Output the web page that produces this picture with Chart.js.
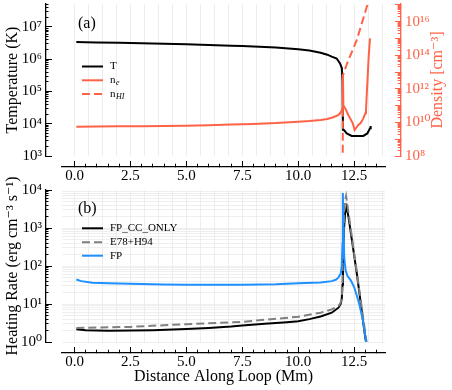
<!DOCTYPE html>
<html>
<head>
<meta charset="utf-8">
<script src="https://cdn.jsdelivr.net/npm/chart.js@4.4.1/dist/chart.umd.min.js"></script>
<style>
  html, body { margin: 0; padding: 0; background: #fff; }
  #wrap { position: relative; width: 452px; height: 390px; }
  canvas { position: absolute; left: 0; }
  #topChart { top: 0; }
  #bottomChart { top: 160px; }
</style>
</head>
<body>
<div id="wrap">
  <canvas id="topChart" width="452" height="190"></canvas>
  <canvas id="bottomChart" width="452" height="230"></canvas>
</div>
<script>
// ---- panel (a): temperature and densities ----
const tempX = [0.08, 0.5, 1, 2, 3, 4, 5, 6, 7, 7.5, 8, 9, 10, 10.5, 11, 11.3, 11.5, 11.72, 11.87, 11.95, 11.98, 11.995, 12.0, 12.05, 12.17, 12.39, 12.7, 12.91, 13.09, 13.21, 13.24];
const tempK = [3.39e6, 3.35e6, 3.31e6, 3.24e6, 3.13e6, 3.02e6, 2.88e6, 2.75e6, 2.63e6, 2.57e6, 2.48e6, 2.29e6, 2.04e6, 1.86e6, 1.58e6, 1.38e6, 1.2e6, 1.05e6, 7.4e5, 5.3e5, 2.2e5, 2.0e4, 6.5e3, 6.3e3, 5.0e3, 4.2e3, 4.2e3, 4.2e3, 5.0e3, 7.2e3, 8.5e3];

const neX = [0.08, 1, 2, 3, 4, 5, 6, 7, 7.5, 8, 9, 10, 10.5, 11, 11.3, 11.5, 11.7, 11.8, 11.87, 11.95, 11.98, 12.0, 12.02, 12.1, 12.24, 12.44, 12.52, 12.69, 12.8, 12.91, 13.0, 13.03, 13.09, 13.15, 13.21];
const neVal = [5.6e9, 5.75e9, 5.9e9, 6.0e9, 6.2e9, 6.3e9, 6.8e9, 7.4e9, 7.8e9, 8.1e9, 9.1e9, 1.1e10, 1.2e10, 1.38e10, 1.58e10, 1.9e10, 2.4e10, 2.75e10, 3.5e10, 5.0e10, 7.1e10, 7.1e12, 1.0e11, 6.9e10, 2.75e10, 8.9e9, 3.5e9, 7.1e9, 9.5e9, 1.74e10, 3.5e10, 5.5e10, 2.1e12, 8.3e13, 1.0e15];

const nhiX = [11.99, 12.0, 12.17, 12.62, 13.09, 13.2];
const nhiVal = [3e7, 6.3e12, 2.9e13, 8.1e14, 9.8e16, 3.0e17];

// ---- panel (b): heating rates ----
const ccX = [0.08, 0.5, 1, 1.5, 2.5, 3.5, 5, 6, 7, 7.5, 8.5, 9.5, 10, 10.5, 11, 11.5, 11.8, 11.9, 11.95, 11.98, 12.0, 12.05, 12.1, 12.17, 12.25, 12.62, 12.99, 13.06];
const ccRate = [2.15, 2.05, 2.0, 1.97, 2.0, 2.05, 2.2, 2.35, 2.55, 2.7, 3.0, 3.3, 3.5, 4.0, 4.7, 5.9, 8.0, 10, 14, 32, 200, 1000, 2500, 3600, 1900, 64, 1.4, 0.8];

const e78X = [0.08, 1, 2.5, 5, 7.5, 10, 11, 11.5, 11.8, 11.9, 11.95, 11.98, 12.0, 12.05, 12.1, 12.14, 12.25, 12.6, 13.0, 13.08];
const e78Rate = [2.35, 2.4, 2.5, 2.95, 3.4, 4.6, 5.9, 7.2, 8.9, 11, 16, 40, 300, 2000, 5600, 7000, 2450, 83, 1.7, 0.8];

const fpX = [0.08, 0.3, 0.8, 1.5, 2.5, 4, 5, 6.5, 7.5, 9, 10, 11, 11.5, 11.7, 11.8, 11.9, 11.95, 11.98, 11.995, 12.03, 12.06, 12.12, 12.2, 12.35, 12.5, 12.6, 12.75, 12.9, 13.05];
const fpRate = [44, 40, 36, 35, 34, 32.5, 32, 32, 32, 33, 35, 37, 40, 44, 50, 63, 100, 400, 8300, 630, 160, 76, 55, 42, 28, 18, 9, 3.5, 0.9];

// ---- axes ----
const xMajor = [0, 2.5, 5, 7.5, 10, 12.5];
const xTickStep = 0.5;
const xGridStep = 0.625;
const tempDecades = [3, 4, 5, 6, 7];
const densLabelDecades = [8, 10, 12, 14, 16];
const heatDecades = [0, 1, 2, 3, 4];

const FONT = "'Liberation Serif', 'DejaVu Serif', serif";
const TOMATO = '#ff6347';
const X_MIN = -0.56, X_MAX = 13.88;

const SUP = {'0': '⁰', '1': '¹', '2': '²', '3': '³', '4': '⁴', '5': '⁵', '6': '⁶', '7': '⁷', '8': '⁸', '9': '⁹', '-': '⁻'};
const pow10Label = e => '10' + String(e).split('').map(c => SUP[c]).join('');
const expOf = v => Math.round(Math.log10(v));
const isDecade = v => Math.abs(Math.log10(v) - expOf(v)) < 1e-6;
const isMajorX = v => xMajor.some(m => Math.abs(m - v) < 1e-6);
const pts = (xs, ys) => xs.map((x, i) => ({x: x, y: ys[i]}));

function steps(step, upTo) {
    const out = [];
    for (let i = 0; i * step <= upTo + 1e-9; i++) out.push(+(i * step).toFixed(4));
    return out;
}
function logTicks(lo, hi, max) {
    const out = [];
    for (let e = lo; e <= hi; e++) {
        for (let m = 1; m < 10; m++) {
            const v = m * Math.pow(10, e);
            if (v <= max * 1.0001) out.push(v);
        }
    }
    return out;
}
function fixSize(prop, size) {
    return s => {
        s[prop] = size;
        s.paddingTop = 0; s.paddingBottom = 0; s.paddingLeft = 0; s.paddingRight = 0;
    };
}

const xTickValues = steps(xTickStep, 13.5);
const xGridValues = steps(xGridStep, 13.75);

function xAxis(height, title) {
    return {
        type: 'linear', position: 'bottom', weight: 0, min: X_MIN, max: X_MAX,
        afterBuildTicks: s => { s.ticks = xTickValues.map(v => ({value: v})); },
        afterFit: fixSize('height', height),
        border: {color: '#000', width: 1.3},
        grid: {
            drawOnChartArea: false, tickLength: -6, tickColor: '#000', tickWidth: 1,
            tickBorderDash: c => (c.tick && isMajorX(c.tick.value)) ? [] : [3.6, 10]
        },
        ticks: {
            autoSkip: false, maxRotation: 0, padding: 6, color: '#000',
            font: {family: FONT, size: 15},
            callback: v => isMajorX(v) ? v.toFixed(1) : ''
        },
        title: title ? {display: true, text: title, color: '#000', font: {family: FONT, size: 16}, padding: {top: 0, bottom: 4}} : {display: false}
    };
}
function xGridAxis() {
    return {
        type: 'linear', position: 'bottom', weight: -1, min: X_MIN, max: X_MAX,
        afterBuildTicks: s => { s.ticks = xGridValues.map(v => ({value: v})); },
        afterFit: fixSize('height', 11),
        border: {display: false},
        grid: {color: '#e8e8e8', lineWidth: 0.8, drawTicks: false},
        ticks: {display: false}
    };
}
function leftLogAxis(min, max, decades, title) {
    return {
        type: 'logarithmic', position: 'left', weight: 0, min: min, max: max,
        afterBuildTicks: s => { s.ticks = logTicks(decades[0], decades[decades.length - 1], max).map(v => ({value: v})); },
        afterFit: fixSize('width', 46),
        border: {color: '#000', width: 1.3},
        grid: {
            drawOnChartArea: false, tickLength: -6, tickColor: '#000', tickWidth: 1,
            tickBorderDash: c => (c.tick && isDecade(c.tick.value)) ? [] : [3.5, 3.5],
            tickBorderDashOffset: 3.5
        },
        ticks: {
            autoSkip: false, padding: 10, color: '#000', font: {family: FONT, size: 15},
            callback: v => (isDecade(v) && decades.includes(expOf(v))) ? pow10Label(expOf(v)) : ''
        },
        title: {display: true, text: title, color: '#000', font: {family: FONT, size: 16}, padding: {top: 3, bottom: 0}}
    };
}
function spacer(position, size) {
    return {
        type: 'linear', position: position, weight: -1,
        afterFit: fixSize(position === 'left' || position === 'right' ? 'width' : 'height', size),
        border: {display: false}, grid: {display: false}, ticks: {display: false}
    };
}

function panelText(tag, tagDy, rows) {
    return {
        id: 'panelText',
        afterDraw(chart) {
            const ctx = chart.ctx, ca = chart.chartArea;
            ctx.save();
            ctx.textBaseline = 'middle';
            ctx.fillStyle = '#000';
            ctx.font = '16px ' + FONT;
            ctx.fillText(tag, ca.left + 16, ca.top + tagDy);
            rows.forEach(r => {
                const ds = chart.data.datasets[r.ds];
                const y = ca.top + r.dy;
                ctx.strokeStyle = ds.borderColor;
                ctx.lineWidth = 2;
                ctx.setLineDash(ds.borderDash || []);
                ctx.beginPath();
                ctx.moveTo(ca.left + 20, y);
                ctx.lineTo(ca.left + 41, y);
                ctx.stroke();
                ctx.fillStyle = '#000';
                ctx.font = '11px ' + FONT;
                ctx.fillText(r.name, ca.left + 48, y);
                if (r.sub) {
                    const w = ctx.measureText(r.name).width;
                    ctx.font = 'italic 8px ' + FONT;
                    ctx.fillText(r.sub, ca.left + 48 + w + 0.5, y + 3);
                }
            });
            if (chart.scales.y2) {
                ctx.setLineDash([]);
                ctx.translate(chart.scales.y2.right - 14, (ca.top + ca.bottom) / 2);
                ctx.rotate(-Math.PI / 2);
                ctx.textAlign = 'center';
                ctx.fillStyle = TOMATO;
                ctx.font = '16px ' + FONT;
                ctx.fillText('Density [cm⁻³]', 0, 0);
            }
            ctx.restore();
        }
    };
}

const baseOptions = {
    responsive: false,
    animation: false,
    elements: {point: {radius: 0}, line: {borderWidth: 2, tension: 0}},
    plugins: {legend: {display: false}, tooltip: {enabled: false}}
};

new Chart(document.getElementById('topChart').getContext('2d'), {
    type: 'line',
    data: {
        datasets: [
            {label: 'T', data: pts(tempX, tempK), borderColor: '#000000', xAxisID: 'x', yAxisID: 'y', order: 1},
            {label: 'n_e', data: pts(neX, neVal), borderColor: TOMATO, xAxisID: 'x', yAxisID: 'y2', order: 0},
            {label: 'n_HI', data: pts(nhiX, nhiVal), borderColor: TOMATO, borderDash: [8, 4], xAxisID: 'x', yAxisID: 'y2', order: 0}
        ]
    },
    options: Object.assign({}, baseOptions, {
        layout: {padding: {top: 4, left: 0, right: 0, bottom: 0}},
        scales: {
            x: xAxis(23, null),
            xg: xGridAxis(),
            y: leftLogAxis(1e3, 5.13e7, tempDecades, 'Temperature (K)'),
            yg: spacer('left', 16),
            y2: {
                type: 'logarithmic', position: 'right', weight: 0, min: 1e8, max: 1.12e17,
                afterBuildTicks: s => { s.ticks = logTicks(8, 17, 1.12e17).map(v => ({value: v})); },
                afterFit: fixSize('width', 51),
                border: {color: TOMATO, width: 1.3},
                grid: {
                    drawOnChartArea: false, tickLength: -6, tickColor: TOMATO, tickWidth: 1,
                    tickBorderDash: c => (c.tick && isDecade(c.tick.value)) ? [] : [3.6, 10]
                },
                ticks: {
                    autoSkip: false, padding: 10, color: TOMATO, font: {family: FONT, size: 15},
                    callback: v => (isDecade(v) && densLabelDecades.includes(expOf(v))) ? pow10Label(expOf(v)) : ''
                }
            },
            y2g: spacer('right', 16)
        }
    }),
    plugins: [panelText('(a)', 20, [
        {ds: 0, dy: 62.5, name: 'T'},
        {ds: 1, dy: 76.3, name: 'n', sub: 'e'},
        {ds: 2, dy: 90, name: 'n', sub: 'HI'}
    ])]
});

new Chart(document.getElementById('bottomChart').getContext('2d'), {
    type: 'line',
    data: {
        datasets: [
            {label: 'FP_CC_ONLY', data: pts(ccX, ccRate), borderColor: '#000000', order: 2},
            {label: 'E78+H94', data: pts(e78X, e78Rate), borderColor: '#808080', borderDash: [8, 4], order: 1},
            {label: 'FP', data: pts(fpX, fpRate), borderColor: '#1e90ff', order: 0}
        ]
    },
    options: Object.assign({}, baseOptions, {
        layout: {padding: {top: 30, left: 0, right: 67, bottom: 0}},
        scales: {
            x: xAxis(37, 'Distance Along Loop (Mm)'),
            xg: xGridAxis(),
            y: leftLogAxis(1, 1e4, heatDecades, 'Heating Rate (erg cm⁻³ s⁻¹)'),
            yg: {
                type: 'logarithmic', position: 'left', weight: -1, min: 1, max: 1e4,
                afterBuildTicks: s => { s.ticks = logTicks(0, 3, 1e4).map(v => ({value: v})); },
                afterFit: fixSize('width', 16),
                border: {display: false},
                grid: {color: '#ebebeb', lineWidth: 0.8, drawTicks: false},
                ticks: {display: false}
            }
        }
    }),
    plugins: [panelText('(b)', 18.3, [
        {ds: 0, dy: 38.3, name: 'FP_CC_ONLY'},
        {ds: 1, dy: 52.3, name: 'E78+H94'},
        {ds: 2, dy: 65.7, name: 'FP'}
    ])]
});
</script>
</body>
</html>
